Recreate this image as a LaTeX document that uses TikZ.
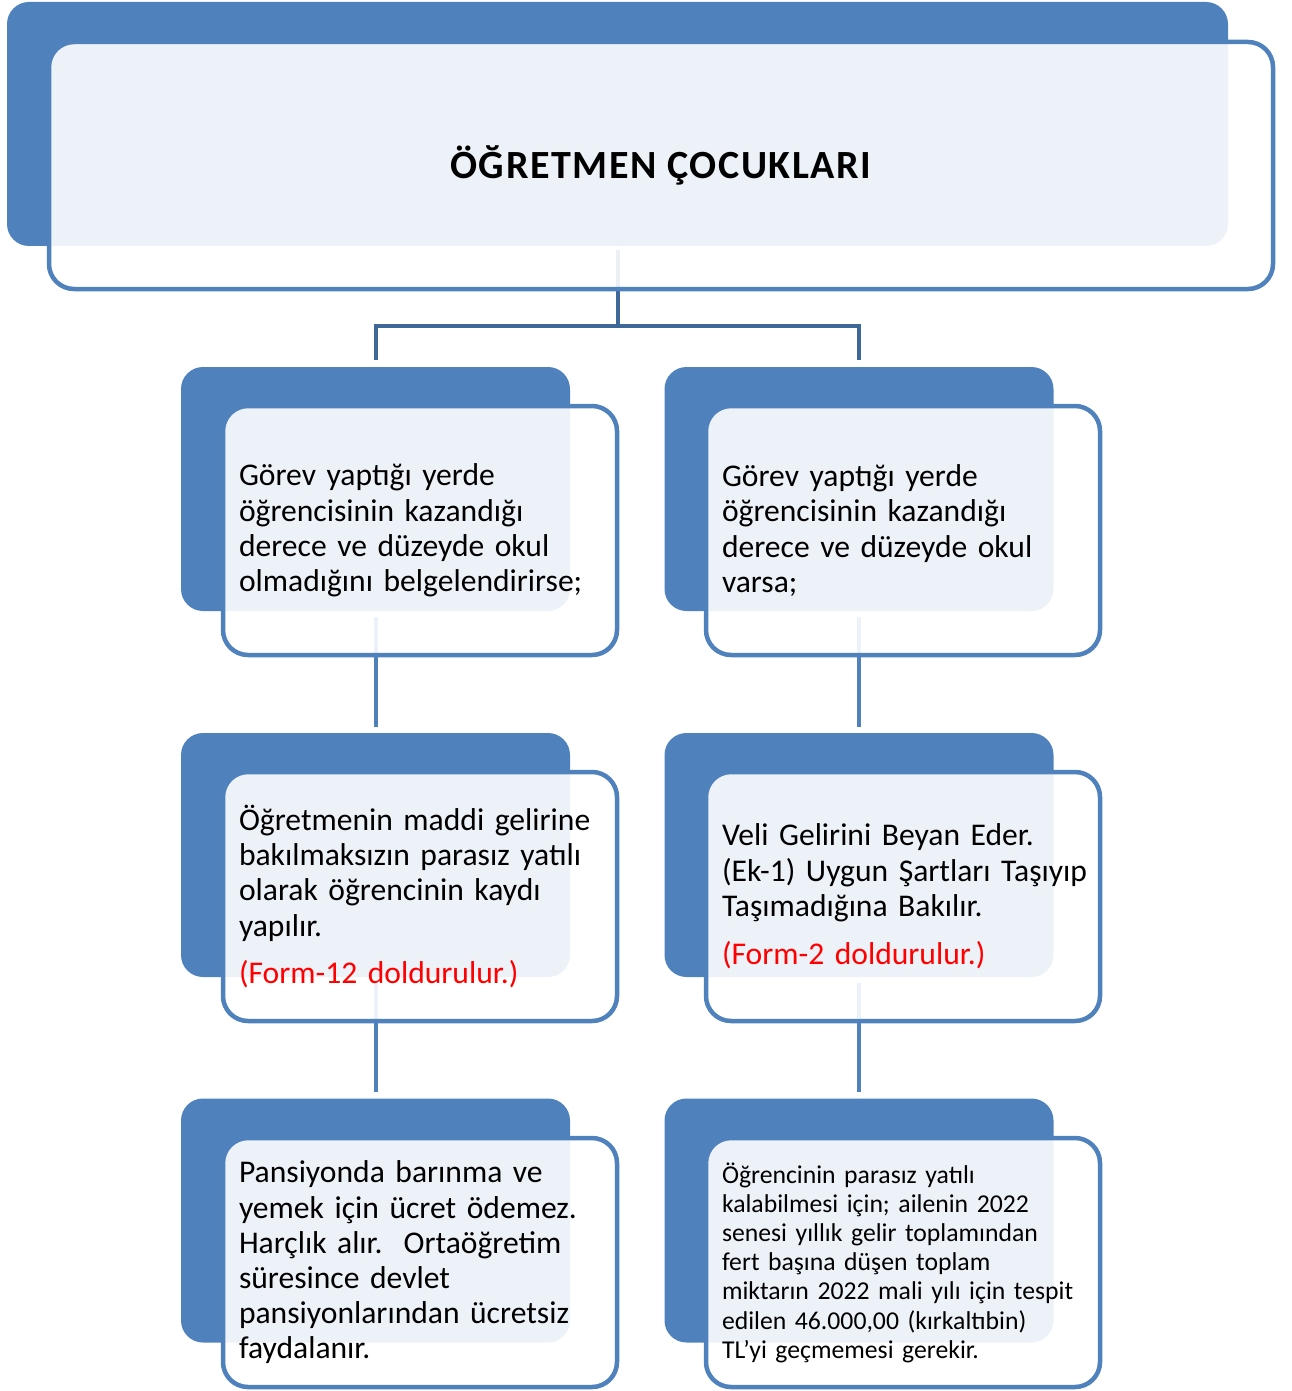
\documentclass[tikz,border=0pt]{standalone}
\usepackage{fontspec}
\setmainfont{Carlito}
\definecolor{cardblue}{RGB}{79,129,189}
\definecolor{forkblue}{RGB}{62,104,152}
\begin{document}
\begin{tikzpicture}[x=0.5pt, y=-0.5pt,
      back/.style={fill=cardblue, rounded corners=11pt, inner sep=0pt,
                   minimum width=194.5pt, minimum height=122pt},
      card/.style={draw=cardblue, line width=2.25pt, fill=white, fill opacity=0.9,
                   text opacity=1, rounded corners=12.5pt, minimum width=197pt,
                   minimum height=124.5pt, text width=181pt, inner xsep=8pt,
                   align=left, font=\fontsize{15.8}{17.6}\selectfont},
      link/.style={draw=cardblue, line width=2pt}]
      \useasboundingbox (0,0) rectangle (1291,1391);
      \node[back, minimum width=610.5pt] (b1) at (617.5,124) {};
      \node[back] (bl2) at (375.5,489) {};
      \node[back] (br2) at (859,489) {};
      \node[back] (bl3) at (375.5,855) {};
      \node[back] (br3) at (859,855) {};
      \node[back] (bl4) at (375.5,1220.5) {};
      \node[back] (br4) at (859,1220.5) {};
      \coordinate (fork) at ([yshift=-40pt]b1.south);
      \draw[link, draw=forkblue] ([yshift=-2pt]b1.south) -- (fork)
            (fork) -| ([yshift=3.5pt]bl2.north)
            (fork) -| ([yshift=3.5pt]br2.north);
      \draw[link] ([yshift=-3pt]bl2.south) -- ([yshift=3pt]bl3.north)
                  ([yshift=-3pt]bl3.south) -- ([yshift=3pt]bl4.north)
                  ([yshift=-3pt]br2.south) -- ([yshift=3pt]br3.north)
                  ([yshift=-3pt]br3.south) -- ([yshift=3pt]br4.north);
      \node[card, minimum width=612pt, minimum height=123.5pt, text width=,
            align=center, font=\fontsize{20}{24}\selectfont\bfseries\addfontfeature{LetterSpace=4}]
            (f1) at (661,165.5) {ÖĞRETMEN ÇOCUKLARI};
      \node[card] (fl2) at (420,530.5) {Görev yaptığı yerde\\öğrencisinin kazandığı\\derece ve düzeyde okul\\olmadığını belgelendirirse;};
      \node[card] (fr2) at (903,530.5) {Görev yaptığı yerde\\öğrencisinin kazandığı\\derece ve düzeyde okul\\varsa;};
      \node[card] (fl3) at (420,896.5) {Öğretmenin maddi gelirine\\bakılmaksızın parasız yatılı\\olarak öğrencinin kaydı\\yapılır.\\[6pt]\textcolor{red}{(Form-12 doldurulur.)}};
      \node[card] (fr3) at (903,896.5) {Veli Gelirini Beyan Eder.\\\mbox{(Ek-1) Uygun Şartları Taşıyıp}\\Taşımadığına Bakılır.\\[6.5pt]\textcolor{red}{(Form-2 doldurulur.)}};
      \node[card] (fl4) at (420,1262.5) {Pansiyonda barınma ve\\yemek için ücret ödemez.\\Harçlık alır.\ \ Ortaöğretim\\süresince devlet\\pansiyonlarından ücretsiz\\faydalanır.};
      \node[card, font=\fontsize{12.85}{14.6}\selectfont] (fr4) at (903,1262.5) {Öğrencinin parasız yatılı\\kalabilmesi için; ailenin 2022\\senesi yıllık gelir toplamından\\fert başına düşen toplam\\miktarın 2022 mali yılı için tespit\\edilen 46.000,00 (kırkaltıbin)\\TL’yi geçmemesi gerekir.};
\end{tikzpicture}
\end{document}
